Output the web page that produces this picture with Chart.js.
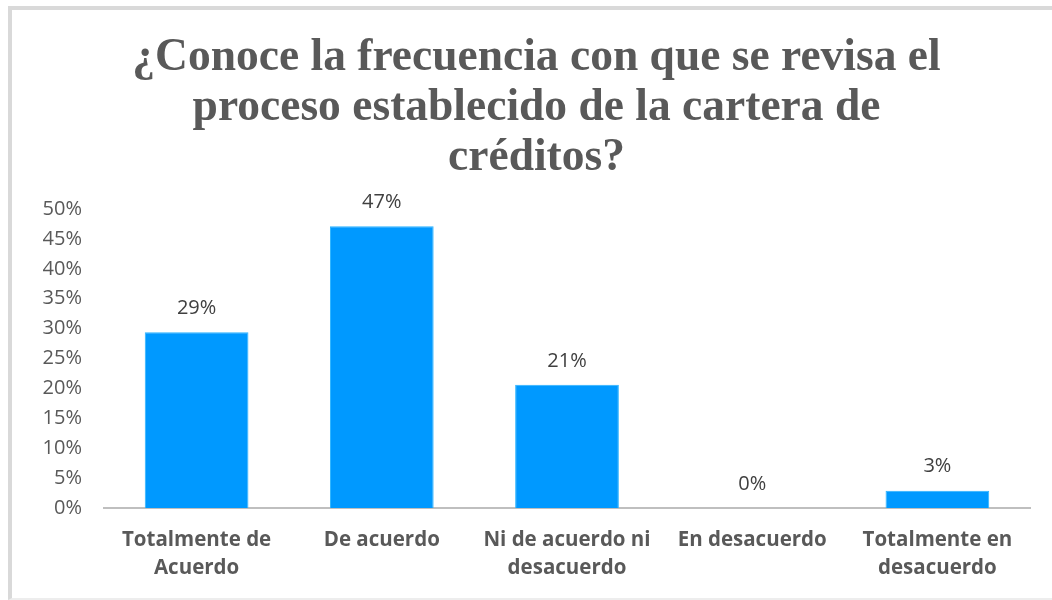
<!DOCTYPE html>
<html>
<head>
<meta charset="utf-8">
<script src="https://cdn.jsdelivr.net/npm/chart.js@4"></script>
<style>
  body { margin: 0; background: #fff; }
  #wrap { position: absolute; left: 0; top: 0; width: 1052px; height: 600px; }
  #marco { position: absolute; left: 8px; top: 6px; width: 1100px; height: 588px;
           border-left: 4px solid #d9d9d9; border-top: 4px solid #d9d9d9;
           border-bottom: 2px solid #ededed; pointer-events: none; }
</style>
</head>
<body>
<div id="wrap"><canvas id="myChart" width="1052" height="600"></canvas></div>
<div id="marco"></div>
<script>
// datos del grafico
const categorias = [
  ["Totalmente de", "Acuerdo"],
  "De acuerdo",
  ["Ni de acuerdo ni", "desacuerdo"],
  "En desacuerdo",
  ["Totalmente en", "desacuerdo"]
];
const valores = [0.294, 0.471, 0.206, 0, 0.029];
const etiquetas = ["29%", "47%", "21%", "0%", "3%"];
const titulo = [
  "¿Conoce la frecuencia con que se revisa el",
  "proceso establecido de la cartera de",
  "créditos?"
];

// etiquetas encima de cada barra
const etiquetasBarras = {
  id: 'etiquetasBarras',
  afterDatasetsDraw(chart) {
    const ctx = chart.ctx;
    const meta = chart.getDatasetMeta(0);
    ctx.save();
    ctx.font = '20px "Open Sans", sans-serif';
    ctx.fillStyle = '#404040';
    ctx.textAlign = 'center';
    ctx.textBaseline = 'middle';
    meta.data.forEach((bar, i) => {
      ctx.fillText(etiquetas[i], bar.x, bar.y - 24);
    });
    ctx.restore();
  }
};

let ctx = document.getElementById('myChart').getContext("2d");

var chart = new Chart(ctx, {
  type: 'bar',
  data: {
    labels: categorias,
    datasets: [{
      data: valores,
      backgroundColor: "#0099ff",
      borderColor: "#29b3ff",
      borderWidth: 1,
      barPercentage: 0.56,
      categoryPercentage: 1
    }]
  },
  options: {
    responsive: false,
    animation: false,
    layout: { padding: { left: 43, right: 22, top: 0, bottom: 0 } },
    plugins: {
      legend: { display: false },
      tooltip: { enabled: false },
      title: {
        display: true,
        text: titulo,
        color: '#595959',
        font: { family: '"Liberation Serif", "Times New Roman", serif', size: 45.5, weight: 'bold', lineHeight: 1.099 },
        padding: { top: 33, bottom: 26 }
      }
    },
    scales: {
      x: {
        grid: { display: false, drawTicks: false },
        border: { display: true, color: '#bfbfbf', width: 2 },
        ticks: {
          color: '#595959',
          padding: 18,
          maxRotation: 0,
          autoSkip: false,
          font: { family: '"Open Sans", sans-serif', size: 20.5, weight: 'bold', lineHeight: 1.366 }
        },
        afterFit(scale) { scale.height = 92; }
      },
      y: {
        min: 0,
        max: 0.5,
        grid: { display: false, drawTicks: false },
        border: { display: false },
        ticks: {
          stepSize: 0.05,
          color: '#595959',
          padding: 22,
          font: { family: '"Open Sans", sans-serif', size: 20 },
          callback: (v) => Math.round(v * 100) + '%'
        },
        afterFit(scale) { scale.width = 61; }
      }
    }
  },
  plugins: [etiquetasBarras]
});
</script>
</body>
</html>
